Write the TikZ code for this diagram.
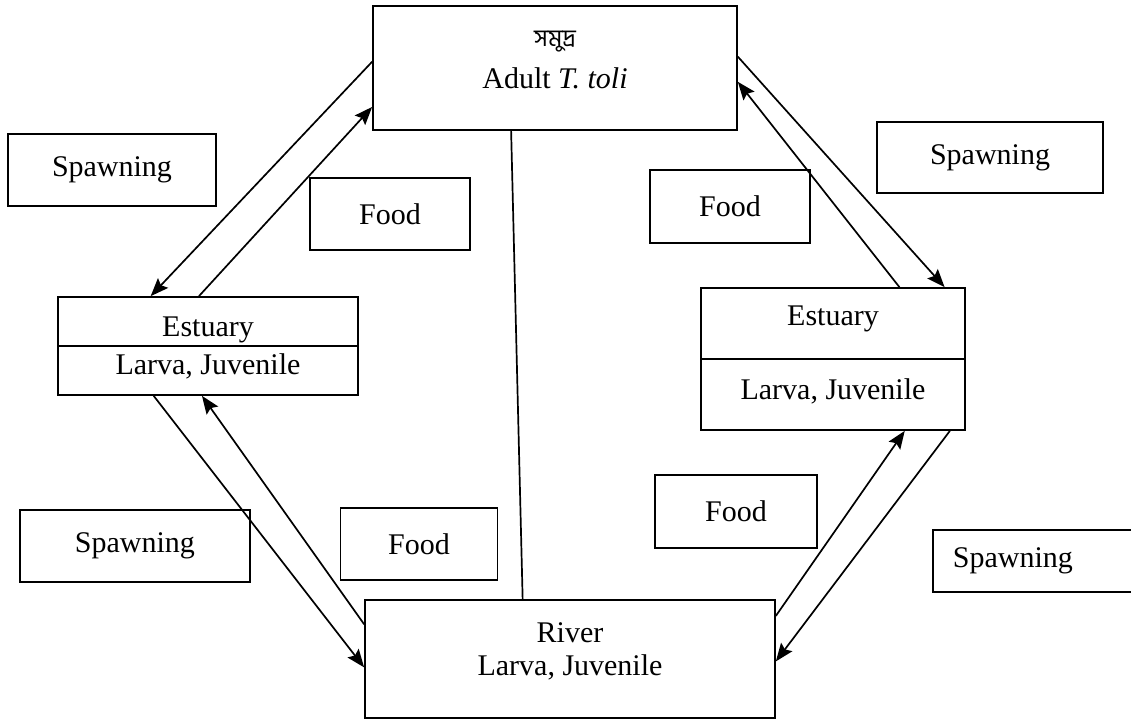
\documentclass[tikz,border=0pt]{standalone}
\usepackage{fontspec}
\setmainfont{Liberation Serif}
\newfontfamily\bngfont[Script=Bengali]{Hind Siliguri}
\usetikzlibrary{arrows.meta, calc, positioning}

\begin{document}
\begin{tikzpicture}[x=0.5pt, y=-0.5pt,
                    box/.style={draw, line width=0.85pt, inner sep=0pt, font=\fontsize{15}{17}\selectfont},
                    txt/.style={inner sep=0pt, font=\fontsize{15}{17}\selectfont},
                    flow/.style={line width=0.85pt, -{Stealth[length=9pt, width=7pt, inset=1.5pt]}}]
                        \clip (0, 0) rectangle (1131, 721);
                        \fill[white] (0, 0) rectangle (1131, 721);
                        % habitats
                        \node[box, minimum width=182pt, minimum height=62pt] (sea) at (555, 68) {};
                        \node[txt, font=\fontsize{12}{14}\selectfont] (seaname) at ($(sea.center)+(0, -26)$) {\bngfont সমুদ্র};
                        \node[txt] (seafish) at ($(sea.center)+(0, 10)$) {Adult \textit{T. toli}};
                        \node[box, minimum width=150pt, minimum height=49pt] (estL) at (208, 346) {};
                        \node[txt] (estLname) at ($(estL.center)+(0, -16)$) {Estuary};
                        \node[txt] (estLfish) at ($(estL.center)+(0, 20)$) {Larva, Juvenile};
                        \node[box, minimum width=132pt, minimum height=71pt] (estR) at (833, 359) {};
                        \node[txt] (estRname) at ($(estR.center)+(0, -40)$) {Estuary};
                        \node[txt] (estRfish) at ($(estR.center)+(0, 32)$) {Larva, Juvenile};
                        \node[box, minimum width=205pt, minimum height=59pt] (river) at (570, 659) {};
                        \node[txt] (rivername) at ($(river.center)+(0, -26)$) {River};
                        \node[txt] (riverfish) at ($(river.center)+(0, 8)$) {Larva, Juvenile};
                        \draw[line width=0.85pt] (estL.west) -- (estL.east);
                        \draw[line width=0.85pt] (estR.west) -- (estR.east);
                        % labels
                        \node[box, minimum width=104pt, minimum height=36pt] (spawnTL) at (112, 170) {Spawning};
                        \node[box, minimum width=80pt, minimum height=36pt] (foodTL) at (390, 214) {Food};
                        \node[box, minimum width=80pt, minimum height=36.5pt] (foodTR) at (730, 206.5) {Food};
                        \node[box, minimum width=113pt, minimum height=35.5pt] (spawnTR) at (990, 157.5) {Spawning};
                        \node[box, minimum width=115pt, minimum height=36pt] (spawnBL) at (135, 546) {Spawning};
                        \node[box, minimum width=78.5pt, minimum height=36pt] (foodBL) at (419, 544) {Food};
                        \node[box, minimum width=81pt, minimum height=36.5pt] (foodBR) at (736, 511.5) {Food};
                        \node[box, anchor=west, minimum height=31pt, inner xsep=10pt, text width=100pt, align=left] (spawnBR) at (932, 561) {Spawning};
                        % links
                        \draw[line width=0.85pt]
                        ($(sea.south west)!0.38!(sea.south east)$) -- ($(river.north west)!0.385!(river.north east)$);
                        \draw[flow] ($(sea.north west)!0.45!(sea.south west)$) -- ($(estL.north west)!0.31!(estL.north east)$);
                        \draw[flow] ($(estL.north west)!0.47!(estL.north east)$) -- ($(sea.north west)!0.81!(sea.south west)$);
                        \draw[flow] ($(sea.north east)!0.41!(sea.south east)$) -- ($(estR.north west)!0.92!(estR.north east)$);
                        \draw[flow] ($(estR.north west)!0.75!(estR.north east)$) -- ($(sea.north east)!0.61!(sea.south east)$);
                        \draw[flow] ($(estL.south west)!0.32!(estL.south east)$) -- ($(river.north west)!0.57!(river.south west)$);
                        \draw[flow] ($(river.north west)!0.21!(river.south west)$) -- ($(estL.south west)!0.48!(estL.south east)$);
                        \draw[flow] ($(river.north east)!0.14!(river.south east)$) -- ($(estR.south west)!0.77!(estR.south east)$);
                        \draw[flow] ($(estR.south west)!0.94!(estR.south east)$) -- ($(river.north east)!0.52!(river.south east)$);
                    \end{tikzpicture}
\end{document}
